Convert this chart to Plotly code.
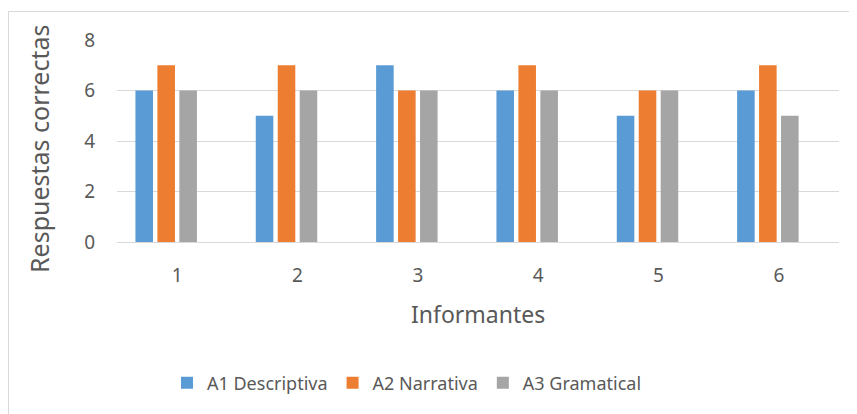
import plotly.graph_objects as go

categories = ["1", "2", "3", "4", "5", "6"]
a1_descriptiva = [6, 5, 7, 6, 5, 6]
a2_narrativa = [7, 7, 6, 7, 6, 7]
a3_gramatical = [6, 6, 6, 6, 6, 5]
# the source chart reserves a slot for a fourth, empty series
empty_series = [None, None, None, None, None, None]
series_names = ["A1 Descriptiva", "A2 Narrativa", "A3 Gramatical"]
colors = ["#5b9bd5", "#ed7d31", "#a5a5a5"]

# the page body has an 8px margin, so the figure sits at (8, 8)
OFF = 8
W, H = 857 - OFF, 414 - OFF
L, R, T, B = 117 - OFF, 18, 40 - OFF, 414 - 242
pw, ph = W - L - R, H - T - B

def px_x(x):
    return (x - OFF - L) / pw

def px_y(y):
    return (H - B - (y - OFF)) / ph

font_fam = "Noto Sans, Open Sans, Liberation Sans, sans-serif"
txt = "#595959"

fig = go.Figure()
for name, vals, c in zip(series_names, [a1_descriptiva, a2_narrativa, a3_gramatical], colors):
    fig.add_trace(go.Bar(x=categories, y=vals, name=name, marker_color=c, marker_line_width=0))
fig.add_trace(go.Bar(x=categories, y=empty_series, name="", showlegend=False,
                     marker_color="rgba(0,0,0,0)", hoverinfo="skip"))

fig.update_layout(
    width=W, height=H,
    margin=dict(l=L, r=R, t=T, b=B, autoexpand=False),
    paper_bgcolor="white", plot_bgcolor="white",
    barmode="group", bargap=0.27, bargroupgap=0.2,
    font=dict(family=font_fam, color=txt),
    showlegend=True,
    legend=dict(orientation="h", x=px_x(407), xanchor="center", y=px_y(383), yanchor="middle",
                font=dict(size=18, color=txt), traceorder="normal", itemwidth=30),
    xaxis=dict(showgrid=False, showline=False, ticks="", tickfont=dict(size=19, color=txt),
               ticklabelstandoff=20),
    yaxis=dict(range=[0, 8], dtick=2, showgrid=True, gridcolor="#d9d9d9", gridwidth=1,
               zeroline=True, zerolinecolor="#d9d9d9", zerolinewidth=1,
               showline=False, ticks="", tickfont=dict(size=19, color=txt), ticklabelstandoff=21),
)

fig.add_annotation(text="Informantes", xref="paper", yref="paper", x=px_x(478), y=px_y(314),
                   showarrow=False, font=dict(size=23, color=txt), xanchor="center", yanchor="middle")
fig.add_annotation(text="Respuestas correctas", xref="paper", yref="paper", x=px_x(39), y=px_y(149),
                   showarrow=False, font=dict(size=25, color=txt), textangle=-90,
                   xanchor="center", yanchor="middle")

fig.add_shape(type="rect", xref="paper", yref="paper",
              x0=px_x(8.5), x1=px_x(870), y0=px_y(430), y1=px_y(11.5),
              line=dict(color="#d9d9d9", width=1), fillcolor="rgba(0,0,0,0)", layer="below")

fig.write_html("out.html")
